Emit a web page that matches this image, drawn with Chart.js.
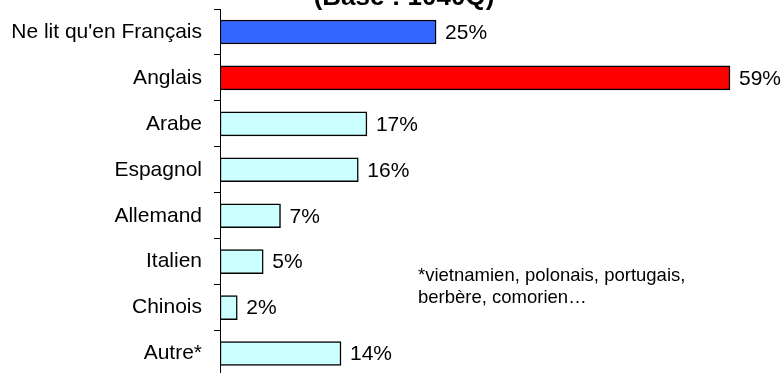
<!DOCTYPE html>
<html lang="fr">
<head>
<meta charset="utf-8">
<title>Langues lues</title>
<script src="https://cdn.jsdelivr.net/npm/chart.js@4/dist/chart.umd.min.js"></script>
<style>
  html, body { margin: 0; padding: 0; background: #fff; overflow: hidden; }
  #wrap { width: 783px; height: 373px; overflow: hidden; }
  canvas { display: block; }
</style>
</head>
<body>
<div id="wrap"><canvas id="c" width="783" height="380"></canvas></div>
<script>
// Langues dans lesquelles on lit (en %)
const categories = [
  "Ne lit qu'en Français", "Anglais", "Arabe", "Espagnol",
  "Allemand", "Italien", "Chinois", "Autre*"
];
const values = [25, 59, 17, 16, 7, 5, 2, 14];
const valueLabels = ["25%", "59%", "17%", "16%", "7%", "5%", "2%", "14%"];
const titleText = "(Base : 1040Q)";
const noteLines = ["*vietnamien, polonais, portugais,", "berbère, comorien…"];

const FONT = "'Liberation Sans', Arial, sans-serif";

function barColor(ctx) {
  if (ctx.dataIndex === 0) return "#3366ff";
  if (ctx.dataIndex === 1) return "#ff0000";
  return "#ccffff";
}

// Value labels, title and footnote drawn on the canvas
const textPlugin = {
  id: "texts",
  afterDatasetsDraw(chart) {
    const c = chart.ctx;
    const meta = chart.getDatasetMeta(0);
    c.save();
    c.fillStyle = "#000";
    c.font = "21px " + FONT;
    c.textAlign = "left";
    c.textBaseline = "middle";
    meta.data.forEach((bar, i) => {
      c.fillText(valueLabels[i], bar.x + 9, bar.y + 1);
    });

    c.font = "bold 26px " + FONT;
    c.textAlign = "center";
    c.textBaseline = "alphabetic";
    c.fillText(titleText, 404, 5);

    c.font = "18.5px " + FONT;
    c.textAlign = "left";
    noteLines.forEach((line, k) => c.fillText(line, 418, 281 + k * 21.5));
    c.restore();
  }
};

new Chart(document.getElementById("c"), {
  type: "bar",
  data: {
    labels: categories,
    datasets: [{
      data: values,
      backgroundColor: barColor,
      borderColor: "#000",
      borderWidth: 1.5,
      borderSkipped: false,
      barThickness: 24
    }]
  },
  options: {
    indexAxis: "y",
    responsive: false,
    devicePixelRatio: 1,
    animation: false,
    layout: { padding: { top: 9, right: 44.4, bottom: 3.5, left: 0 } },
    plugins: {
      legend: { display: false },
      tooltip: { enabled: false },
      title: { display: false }
    },
    scales: {
      x: {
        display: false,
        min: 0,
        max: 60
      },
      y: {
        afterFit(scale) {
          scale.width = 220;
          scale.paddingTop = 0;
          scale.paddingBottom = 0;
        },
        border: { display: true, color: "#000", width: 1 },
        grid: {
          display: true,
          drawOnChartArea: false,
          drawTicks: true,
          tickLength: 6,
          color: "#000",
          offset: true
        },
        ticks: {
          color: "#000",
          padding: 12,
          font: { family: FONT, size: 21 }
        }
      }
    }
  },
  plugins: [textPlugin]
});
</script>
</body>
</html>
